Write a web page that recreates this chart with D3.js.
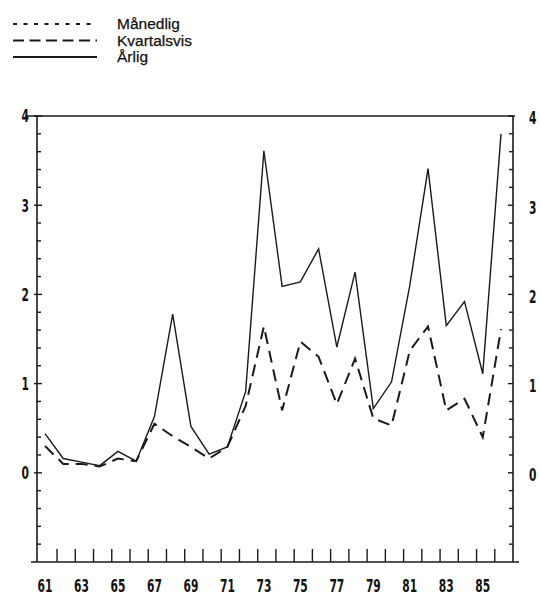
<!DOCTYPE html>
<html>
<head>
<meta charset="utf-8">
<script src="https://cdn.jsdelivr.net/npm/d3@7/dist/d3.min.js"></script>
<style>
  html, body { margin: 0; padding: 0; background: #fff; }
  svg { display: block; }
  .tick-label { font-family: "DejaVu Sans Condensed", "Liberation Sans Narrow", sans-serif; font-weight: bold; font-size: 18px; fill: #111; }
  .legend-label { font-family: "Liberation Sans", Arial, sans-serif; font-size: 15.5px; fill: #111; stroke: #111; stroke-width: 0.25px; }
</style>
</head>
<body>
<script>
// Years on the x axis
const years = d3.range(61, 87);

// Annual ("Årlig") series
const arligValues = [0.44, 0.16, 0.12, 0.08, 0.24, 0.13, 0.63, 1.78, 0.52, 0.21, 0.29, 0.91, 3.61,
                     2.09, 2.14, 2.51, 1.41, 2.25, 0.72, 1.02, 2.10, 3.41, 1.65, 1.92, 1.11, 3.80];

// Quarterly ("Kvartalsvis") series
const kvartalsvisValues = [0.30, 0.10, 0.10, 0.07, 0.16, 0.13, 0.55, 0.41, 0.29, 0.16, 0.29, 0.75, 1.64,
                           0.70, 1.47, 1.30, 0.77, 1.28, 0.61, 0.53, 1.37, 1.64, 0.70, 0.83, 0.40, 1.61];

// Axis labels
const xTickLabels = ["61", "63", "65", "67", "69", "71", "73", "75", "77", "79", "81", "83", "85"];
const yTickLabels = ["0", "1", "2", "3", "4"];

// Legend entries
const legendLabels = ["Månedlig", "Kvartalsvis", "Årlig"];
const legendDash = ["4,6.5", "11,5.5", null];

const width = 540, height = 596;
const plotLeft = 37, plotRight = 513, plotTop = 116, plotBottom = 562;
const squeeze = 0.66; // narrow digit look for tick labels

const svg = d3.select("body").append("svg")
  .attr("width", width).attr("height", height);

svg.append("rect").attr("width", width).attr("height", height).attr("fill", "#fff");

const x = d3.scaleLinear().domain([61, 86]).range([45, 501]);
const y = d3.scaleLinear().domain([-1, 4]).range([plotBottom, plotTop]);

const ink = "#1a1a1a";

// Frame: left, right, bottom axes and top border
const frame = svg.append("g").attr("stroke", ink).attr("fill", "none").attr("stroke-width", 1.6);
frame.append("line").attr("x1", plotLeft).attr("x2", plotLeft).attr("y1", plotTop).attr("y2", plotBottom);
frame.append("line").attr("x1", plotRight).attr("x2", plotRight).attr("y1", plotTop).attr("y2", plotBottom);
frame.append("line").attr("x1", 31).attr("x2", plotRight + 6).attr("y1", plotBottom).attr("y2", plotBottom);
frame.append("line").attr("x1", 25).attr("x2", plotRight + 2).attr("y1", plotTop).attr("y2", plotTop);

// Y ticks every 0.2 on both vertical axes
const yMinor = d3.range(-0.8, 4.0001, 0.2).map(v => Math.round(v * 10) / 10);
const gyL = svg.append("g").attr("stroke", ink).attr("stroke-width", 1.4);
gyL.selectAll("line").data(yMinor).join("line")
  .attr("x1", d => Number.isInteger(d) ? plotLeft - 3 : plotLeft)
  .attr("x2", d => Number.isInteger(d) ? plotLeft + 5 : plotLeft + 4)
  .attr("y1", d => y(d)).attr("y2", d => y(d));
const gyR = svg.append("g").attr("stroke", ink).attr("stroke-width", 1.4);
gyR.selectAll("line").data(yMinor).join("line")
  .attr("x1", d => Number.isInteger(d) ? plotRight - 5 : plotRight - 4)
  .attr("x2", plotRight)
  .attr("y1", d => y(d)).attr("y2", d => y(d));

// Y tick labels (left and right)
svg.append("g").selectAll("text").data(yTickLabels).join("text")
  .attr("class", "tick-label")
  .attr("transform", d => `translate(29,${y(+d)}) scale(${squeeze},1)`)
  .attr("dy", "0.36em").attr("text-anchor", "end")
  .text(d => d);
svg.append("g").selectAll("text").data(yTickLabels).join("text")
  .attr("class", "tick-label")
  .attr("transform", d => `translate(529,${y(+d) + 2}) scale(${squeeze},1)`)
  .attr("dy", "0.36em").attr("text-anchor", "start")
  .text(d => d);

// X ticks, rising from the bottom axis
const xTickYears = d3.range(61, 86);
svg.append("g").attr("stroke", ink).attr("stroke-width", 1.4)
  .selectAll("line").data(xTickYears).join("line")
  .attr("x1", d => x(d + 0.66)).attr("x2", d => x(d + 0.66))
  .attr("y1", plotBottom).attr("y2", plotBottom - 13);

// X tick labels
svg.append("g").selectAll("text").data(xTickLabels).join("text")
  .attr("class", "tick-label")
  .attr("transform", d => `translate(${x(+d)},592) scale(${squeeze},1)`)
  .attr("text-anchor", "middle")
  .text(d => d);

// Series lines
const line = d3.line().x((d, i) => x(years[i])).y(d => y(d));

svg.append("path").datum(kvartalsvisValues)
  .attr("d", line).attr("fill", "none")
  .attr("stroke", ink).attr("stroke-width", 2)
  .attr("stroke-dasharray", "12,7");

svg.append("path").datum(arligValues)
  .attr("d", line).attr("fill", "none")
  .attr("stroke", ink).attr("stroke-width", 1.4)
  .attr("stroke-linejoin", "miter");

// Legend
const legend = svg.append("g");
const legendY = d3.scaleLinear().domain([0, 1]).range([24, 40.5]);
legendLabels.forEach((lab, i) => {
  const ly = legendY(i);
  const ln = legend.append("line")
    .attr("x1", 13).attr("x2", 97).attr("y1", ly).attr("y2", ly)
    .attr("stroke", ink).attr("stroke-width", 1.8);
  if (legendDash[i]) ln.attr("stroke-dasharray", legendDash[i]);
  legend.append("text").attr("class", "legend-label")
    .attr("x", 117).attr("y", ly).attr("dy", "0.35em")
    .text(lab);
});
</script>
</body>
</html>
